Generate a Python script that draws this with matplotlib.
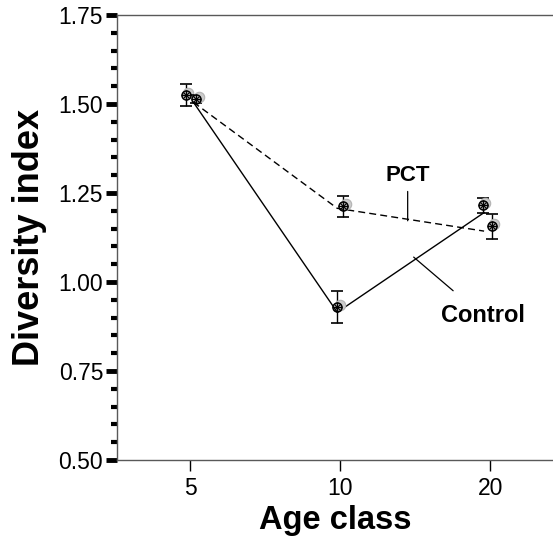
"""Diversity index by age class, Control vs PCT."""
import matplotlib
matplotlib.use("Agg")

import matplotlib.pyplot as plt
import matplotlib.transforms as mtransforms
from matplotlib.ticker import MultipleLocator, FormatStrFormatter

plt.rcParams["font.family"] = ["Liberation Sans", "DejaVu Sans"]

age_classes = ["5", "10", "20"]

# plotted points (slightly jittered around each class)
control_x = [-0.03, 0.98, 1.95]
control_y = [1.525, 0.930, 1.215]
control_err = [0.030, 0.045, 0.020]

pct_x = [0.04, 1.02, 2.01]
pct_y = [1.514, 1.213, 1.157]
pct_err = [0.012, 0.030, 0.035]

# fitted lines drawn under the points
line_x = [0.02, 0.98, 1.96]
control_line = [1.505, 0.915, 1.195]
pct_line = [1.505, 1.207, 1.143]

fig = plt.figure(figsize=(5.53, 5.40), dpi=100)
ax = fig.add_axes([0.2116, 0.1481, 0.7884, 0.8241])

ax.plot(line_x, control_line, color="black", lw=1.0, ls="-", zorder=2)
ax.plot(line_x, pct_line, color="black", lw=1.0, ls=(0, (5, 3)), zorder=2)

shadow = mtransforms.offset_copy(ax.transData, fig=fig, x=2.5, y=2, units="dots")
for xs, ys, es in ((control_x, control_y, control_err), (pct_x, pct_y, pct_err)):
    ax.errorbar(xs, ys, yerr=es, fmt="none", ecolor="black", elinewidth=1.0,
                capsize=4.5, capthick=1.2, zorder=3)
    ax.plot(xs, ys, "o", ms=7.5, mfc="0.8", mec="0.7", mew=0.8,
            transform=shadow, zorder=3)
    ax.plot(xs, ys, "o", ms=6.5, mfc="none", mec="black", mew=1.1, zorder=4)
    ax.plot(xs, ys, "+", ms=6.5, mec="black", mew=1.0, zorder=4)
    ax.plot(xs, ys, "x", ms=4.5, mec="black", mew=0.8, zorder=4)

ax.annotate("PCT", xy=(1.45, 1.172), xytext=(1.45, 1.27), ha="center", va="bottom",
            fontsize=16, fontweight="bold",
            arrowprops=dict(arrowstyle="-", color="black", lw=0.9, shrinkA=2, shrinkB=0))
ax.annotate("Control", xy=(1.49, 1.07), xytext=(1.95, 0.905), ha="center", va="center",
            fontsize=17, fontweight="bold",
            arrowprops=dict(arrowstyle="-", color="black", lw=0.9, shrinkA=12, shrinkB=0))

ax.set_xlim(-0.49, 2.42)
ax.set_ylim(0.5, 1.75)
ax.set_xticks(range(len(age_classes)))
ax.set_xticklabels(age_classes)
ax.yaxis.set_major_locator(MultipleLocator(0.25))
ax.yaxis.set_minor_locator(MultipleLocator(0.05))
ax.yaxis.set_major_formatter(FormatStrFormatter("%.2f"))

ax.tick_params(axis="y", which="major", direction="out", length=8, width=3.5,
               labelsize=16.5, pad=2)
ax.tick_params(axis="y", which="minor", direction="out", length=4, width=3)
ax.tick_params(axis="x", direction="out", length=8, width=1, labelsize=16.5, pad=4)

for side in ("left", "bottom", "top"):
    ax.spines[side].set_color("0.35")
    ax.spines[side].set_linewidth(1.0)
ax.spines["right"].set_visible(False)

ax.set_xlabel("Age class", fontsize=23.5, fontweight="bold", labelpad=4)
ax.set_ylabel("Diversity index", fontsize=26, fontweight="bold", labelpad=8)

fig.savefig("out.png", dpi=100, facecolor="white")
